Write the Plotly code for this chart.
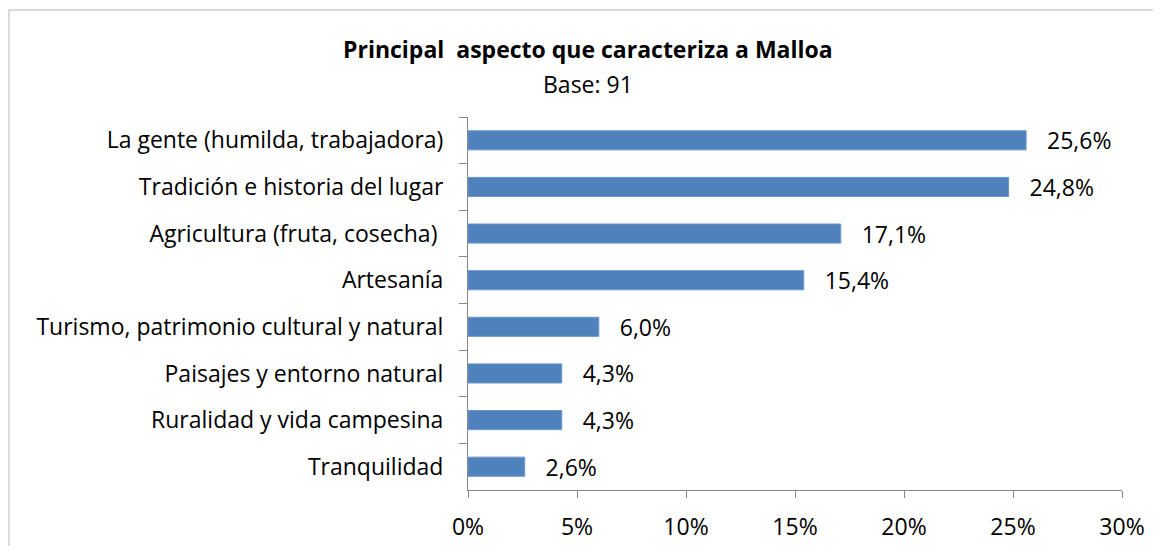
import plotly.graph_objects as go

categorias = [
    "La gente (humilda, trabajadora)",
    "Tradición e historia del lugar",
    "Agricultura (fruta, cosecha) ",
    "Artesanía",
    "Turismo, patrimonio cultural y natural",
    "Paisajes y entorno natural",
    "Ruralidad y vida campesina",
    "Tranquilidad",
]
porcentajes = [25.6, 24.8, 17.1, 15.4, 6.0, 4.3, 4.3, 2.6]
etiquetas = ["\u00a0\u00a0\u00a0" + f"{v:.1f}%".replace(".", ",") for v in porcentajes]
ticks_x = [0, 5, 10, 15, 20, 25, 30]
ticks_x_txt = [f"{t}%" for t in ticks_x]

fuente = "Open Sans"
tam = 23
gris = "#868686"

trace = go.Bar(
    x=porcentajes,
    y=categorias,
    orientation="h",
    text=etiquetas,
    textposition="outside",
    constraintext="none",
    textfont=dict(family=fuente, size=tam, color="black"),
    cliponaxis=False,
    marker=dict(color="#4F81BD", line=dict(color="#6A96CB", width=1)),
    width=0.41,
)

layout = go.Layout(
    width=1145,
    height=538,
    margin=dict(l=460, r=31, t=109, b=56),
    paper_bgcolor="white",
    plot_bgcolor="white",
    showlegend=False,
    font=dict(family=fuente, size=tam, color="black"),
    xaxis=dict(
        range=[0, 30],
        tickvals=ticks_x,
        ticktext=ticks_x_txt,
        showgrid=False,
        zeroline=False,
        showline=True,
        linecolor=gris,
        linewidth=1,
        ticks="outside",
        tickcolor=gris,
        ticklen=7,
        ticklabelstandoff=9,
        automargin=False,
        tickfont=dict(family=fuente, size=tam),
    ),
    yaxis=dict(
        autorange="reversed",
        showgrid=False,
        showline=True,
        linecolor=gris,
        linewidth=1,
        ticks="outside",
        tickson="boundaries",
        tickcolor=gris,
        ticklen=8,
        ticklabelstandoff=19,
        automargin=False,
        tickfont=dict(family=fuente, size=tam),
    ),
    annotations=[
        dict(text="<b>Principal  aspecto que caracteriza a Malloa</b>",
             x=0.1835, y=1.181, xref="paper", yref="paper", showarrow=False,
             xanchor="center", yanchor="middle",
             font=dict(family=fuente, size=tam)),
        dict(text="Base: 91", x=0.1835, y=1.089, xref="paper", yref="paper",
             xanchor="center", yanchor="middle",
             showarrow=False, font=dict(family=fuente, size=tam)),
    ],
    shapes=[
        dict(type="rect", xref="paper", yref="paper",
             x0=-0.7018, x1=1.2, y0=-0.4, y1=1.287,
             line=dict(color="#D9D9D9", width=2), layer="below"),
    ],
)

fig = go.Figure(data=[trace], layout=layout)
fig.write_html("out.html")
